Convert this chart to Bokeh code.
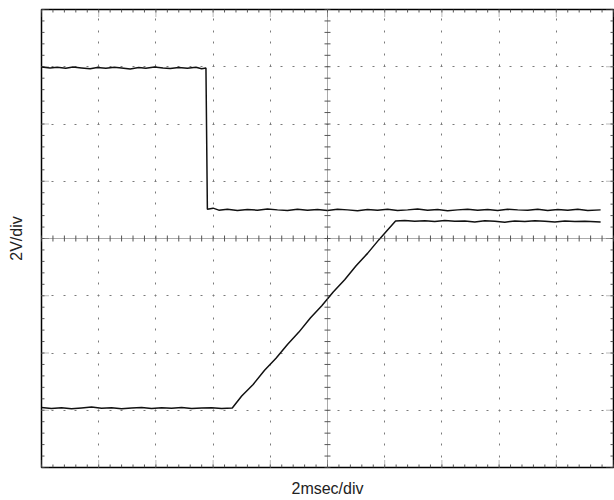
import numpy as np
from bokeh.plotting import figure
from bokeh.models import FixedTicker, Span
from bokeh.embed import file_html
from bokeh.resources import INLINE

# Oscilloscope graticule: 2 ms/div horizontally, 2 V/div vertically
x_major = [0, 2, 4, 6, 8, 10, 12, 14, 16, 18, 20]
y_major = [-8, -6, -4, -2, 0, 2, 4, 6, 8]
x_minor = [round(0.4 * k, 2) for k in range(51)]
y_minor = [round(-8 + 0.4 * k, 2) for k in range(41)]
x_center = 10
y_center = 0

# Trace 1: step down (time in ms, voltage in V)
t1 = [0.00, 0.30, 0.55, 0.85, 1.10, 1.40, 1.70, 1.95, 2.25, 2.55, 2.80, 3.10,
      3.40, 3.65, 3.95, 4.25, 4.50, 4.80, 5.10, 5.40, 5.60, 5.75, 5.80, 6.00,
      6.20, 6.50, 6.85, 7.20, 7.55, 7.90, 8.25, 8.60, 8.95, 9.30, 9.65, 10.00,
      10.35, 10.70, 11.05, 11.40, 11.75, 12.10, 12.45, 12.80, 13.15, 13.50,
      13.85, 14.20, 14.55, 14.90, 15.25, 15.60, 15.95, 16.30, 16.65, 17.00,
      17.35, 17.70, 18.05, 18.40, 18.75, 19.10, 19.55]
v1 = [5.99, 5.96, 5.98, 5.95, 5.99, 5.96, 5.93, 5.97, 5.95, 5.98, 5.96, 5.92,
      5.97, 5.95, 5.99, 5.96, 5.94, 5.97, 5.95, 5.98, 5.93, 5.96, 1.02, 1.06,
      0.99, 1.02, 0.98, 1.01, 0.99, 1.03, 1.00, 0.98, 1.02, 0.99, 1.01, 0.98,
      1.02, 1.00, 0.97, 1.01, 0.99, 1.02, 0.98, 1.00, 1.03, 0.99, 1.01, 0.97,
      1.00, 1.02, 0.99, 1.01, 0.98, 1.02, 1.00, 0.99, 1.02, 0.98, 1.01, 0.99,
      1.02, 0.98, 1.00]

# Trace 2: ramp up
t2 = [0.00, 0.35, 0.70, 1.05, 1.40, 1.75, 2.10, 2.45, 2.80, 3.15, 3.50, 3.85,
      4.20, 4.55, 4.90, 5.25, 5.60, 5.95, 6.30, 6.67, 7.00, 7.40, 7.80, 8.20,
      8.60, 9.00, 9.40, 9.80, 10.20, 10.60, 11.00, 11.40, 11.80, 12.10, 12.38,
      12.70, 13.05, 13.40, 13.75, 14.10, 14.45, 14.80, 15.15, 15.50, 15.85,
      16.20, 16.55, 16.90, 17.25, 17.60, 17.95, 18.30, 18.65, 19.00, 19.55]
v2 = [-5.90, -5.94, -5.91, -5.95, -5.92, -5.89, -5.93, -5.91, -5.95, -5.92,
      -5.90, -5.94, -5.91, -5.93, -5.90, -5.94, -5.92, -5.91, -5.94, -5.92,
      -5.50, -5.10, -4.60, -4.18, -3.70, -3.27, -2.78, -2.35, -1.87, -1.44,
      -0.95, -0.52, -0.04, 0.30, 0.61, 0.63, 0.60, 0.62, 0.59, 0.63, 0.60,
      0.61, 0.58, 0.62, 0.60, 0.57, 0.61, 0.59, 0.62, 0.60, 0.58, 0.61, 0.59,
      0.60, 0.58]

W, H = 572, 459
LB, RB, TB, BB = 41, 1, 9, 31

p = figure(width=LB + W + RB, height=TB + H + BB, x_range=(0, 20), y_range=(-8, 8),
           output_backend="svg", toolbar_location=None,
           min_border_left=LB, min_border_right=RB, min_border_top=TB,
           min_border_bottom=BB, background_fill_color="white",
           border_fill_color="white")
p.outline_line_color = "black"
p.outline_line_width = 1.5


def dot_dash(length, n):
    pos = [round(k * length / n) for k in range(n + 1)]
    parts = []
    for k in range(n):
        parts += [2, pos[k + 1] - pos[k] - 2]
    return " ".join(str(v) for v in parts)


# dotted graticule lines (interior, non-center)
p.xgrid.ticker = FixedTicker(ticks=[v for v in x_major if v != x_center])
p.ygrid.ticker = FixedTicker(ticks=[v for v in y_major if v != y_center])
for g in (p.xgrid, p.ygrid):
    g.grid_line_color = "#7a7a7a"
    g.grid_line_width = 1
    g.grid_line_dash_offset = 1
p.xgrid.grid_line_dash = dot_dash(H, len(y_minor) - 1)
p.ygrid.grid_line_dash = dot_dash(W, len(x_minor) - 1)

# center crosshair with minor tick marks
p.add_layout(Span(location=x_center, dimension="height", line_color="#555555",
                  line_dash="1 1", line_width=1))
p.add_layout(Span(location=y_center, dimension="width", line_color="#555555",
                  line_dash="1 1", line_width=1))
p.scatter(x=[x_center] * len(y_minor), y=y_minor, marker="dash", size=6,
          line_color="#555555", line_width=1)
p.scatter(x=x_minor, y=[y_center] * len(x_minor), marker="dash", size=6,
          angle=np.pi / 2, line_color="#555555", line_width=1)

# frame tick marks pointing inward (lengths given in pixels)
x0, x1 = x_major[0], x_major[-1]
y0, y1 = y_major[0], y_major[-1]
px_x = (x1 - x0) / W
px_y = (y1 - y0) / H


def edge_ticks(xs, ys, length, color, dash):
    # bottom/top ticks
    p.segment(x0=xs * 2, y0=[y0] * len(xs) + [y1] * len(xs),
              x1=xs * 2, y1=[y0 + length * px_y] * len(xs) + [y1 - length * px_y] * len(xs),
              line_color=color, line_width=1, line_dash=dash)
    # left/right ticks
    p.segment(x0=[x0] * len(ys) + [x1] * len(ys), y0=ys * 2,
              x1=[x0 + length * px_x] * len(ys) + [x1 - length * px_x] * len(ys), y1=ys * 2,
              line_color=color, line_width=1, line_dash=dash)


edge_ticks(x_minor, y_minor, 3, "#555555", "solid")
edge_ticks(x_major, y_major, 8, "#777777", "1 1")

# traces
p.line(t1, v1, line_color="#111111", line_width=1.5)
p.line(t2, v2, line_color="#111111", line_width=1.5)

# axes: only their titles are shown
for ax in (p.xaxis[0], p.yaxis[0]):
    ax.ticker = FixedTicker(ticks=[])
    ax.axis_line_color = None
    ax.major_tick_line_color = None
    ax.minor_tick_line_color = None
    ax.major_label_standoff = 0
    ax.axis_label_text_font = "Liberation Sans"
    ax.axis_label_text_font_size = "16px"
    ax.axis_label_text_font_style = "normal"
    ax.axis_label_text_color = "#222222"
p.xaxis[0].axis_label = "2msec/div"
p.yaxis[0].axis_label = "2V/div"
p.xaxis[0].axis_label_standoff = 12
p.yaxis[0].axis_label_standoff = 17

open("out.html", "w").write(file_html(p, INLINE))
